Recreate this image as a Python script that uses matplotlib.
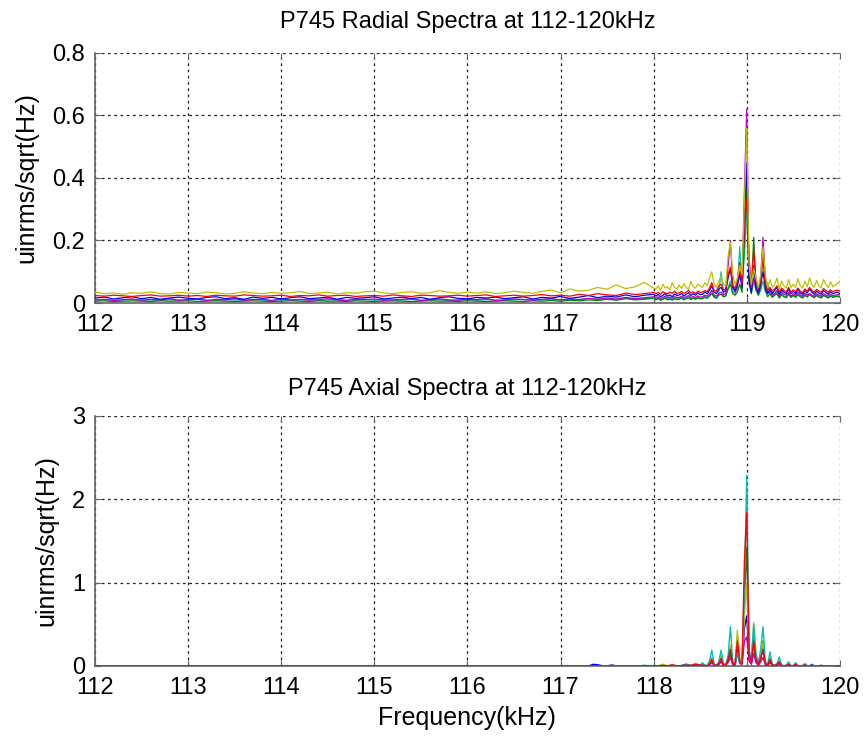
import matplotlib; matplotlib.use("Agg")
import matplotlib.pyplot as plt
import numpy as np

plt.rcParams["font.family"] = ["Liberation Sans", "DejaVu Sans"]

# ---------------- radial spectra (top) ----------------
rad_f_lo = np.round(np.arange(112.0, 118.001, 0.1), 3)      # 61 pts
rad_f_hi = np.round(np.arange(118.025, 120.001, 0.025), 3)  # 80 pts

rad_y_lo = [0.035,0.030,0.032,0.028,0.033,0.031,0.036,0.030,0.029,0.034,
            0.032,0.030,0.035,0.033,0.029,0.031,0.036,0.032,0.030,0.034,
            0.031,0.033,0.037,0.030,0.032,0.035,0.029,0.033,0.031,0.036,
            0.038,0.032,0.030,0.034,0.036,0.031,0.033,0.040,0.034,0.031,
            0.035,0.032,0.036,0.030,0.033,0.038,0.034,0.031,0.037,0.042,
            0.032,0.045,0.038,0.041,0.050,0.044,0.058,0.046,0.052,0.066,0.048]
rad_y_hi = [0.045,0.055,0.040,0.060,0.048,0.052,0.042,0.065,0.050,0.045,
            0.058,0.047,0.062,0.050,0.044,0.070,0.052,0.048,0.060,0.055,
            0.050,0.065,0.055,0.080,0.100,0.060,0.050,0.070,0.085,0.060,
            0.055,0.150,0.195,0.090,0.060,0.080,0.120,0.090,0.330,0.560,
            0.120,0.060,0.110,0.080,0.050,0.090,0.180,0.090,0.050,0.075,
            0.050,0.060,0.080,0.045,0.070,0.055,0.048,0.075,0.050,0.060,
            0.050,0.078,0.055,0.048,0.070,0.052,0.080,0.058,0.050,0.072,
            0.055,0.048,0.075,0.060,0.050,0.068,0.052,0.058,0.062,0.070]

rad_r_lo = [0.024,0.022,0.025,0.023,0.021,0.024,0.026,0.022,0.023,0.025,
            0.022,0.024,0.021,0.025,0.023,0.022,0.026,0.024,0.022,0.023,
            0.025,0.021,0.024,0.023,0.026,0.022,0.024,0.025,0.021,0.023,
            0.024,0.022,0.026,0.023,0.021,0.025,0.024,0.022,0.023,0.025,
            0.022,0.024,0.026,0.021,0.023,0.025,0.022,0.024,0.027,0.023,
            0.025,0.022,0.028,0.024,0.030,0.026,0.024,0.032,0.027,0.030,0.034]
rad_r_hi = [0.030,0.034,0.028,0.036,0.032,0.029,0.035,0.031,0.038,0.030,
            0.033,0.037,0.030,0.035,0.040,0.032,0.036,0.030,0.038,0.034,
            0.035,0.040,0.036,0.048,0.065,0.040,0.038,0.055,0.060,0.042,
            0.045,0.090,0.115,0.055,0.048,0.070,0.130,0.060,0.250,0.330,
            0.150,0.050,0.170,0.070,0.045,0.070,0.150,0.060,0.040,0.050,
            0.038,0.045,0.055,0.035,0.048,0.040,0.036,0.050,0.035,0.042,
            0.036,0.048,0.038,0.033,0.045,0.037,0.050,0.040,0.034,0.044,
            0.038,0.034,0.046,0.040,0.034,0.042,0.036,0.040,0.041,0.038]

rad_b_lo = [0.016,0.019,0.013,0.017,0.020,0.014,0.018,0.012,0.016,0.019,
            0.015,0.013,0.018,0.020,0.014,0.017,0.012,0.019,0.015,0.018,
            0.013,0.017,0.020,0.014,0.016,0.019,0.012,0.018,0.015,0.017,
            0.020,0.013,0.016,0.019,0.014,0.018,0.012,0.017,0.020,0.015,
            0.013,0.018,0.016,0.019,0.014,0.017,0.020,0.013,0.018,0.016,
            0.021,0.015,0.019,0.024,0.017,0.022,0.019,0.026,0.020,0.025,0.028]
rad_b_hi = [0.022,0.028,0.020,0.025,0.030,0.022,0.026,0.020,0.029,0.024,
            0.026,0.031,0.022,0.028,0.033,0.024,0.030,0.025,0.032,0.027,
            0.028,0.035,0.030,0.040,0.055,0.035,0.030,0.045,0.050,0.035,
            0.040,0.080,0.110,0.050,0.040,0.060,0.090,0.050,0.260,0.450,
            0.070,0.035,0.120,0.050,0.035,0.060,0.100,0.050,0.030,0.045,
            0.030,0.040,0.050,0.028,0.042,0.035,0.030,0.045,0.030,0.038,
            0.030,0.045,0.033,0.028,0.040,0.032,0.045,0.035,0.028,0.038,
            0.032,0.028,0.040,0.034,0.028,0.036,0.030,0.033,0.035,0.030]

rad_m_lo = [0.010,0.012,0.008,0.011,0.013,0.009,0.012,0.010,0.014,0.009,
            0.011,0.013,0.008,0.012,0.010,0.014,0.009,0.011,0.012,0.008,
            0.013,0.010,0.012,0.009,0.011,0.014,0.010,0.008,0.012,0.011,
            0.013,0.009,0.010,0.012,0.014,0.008,0.011,0.013,0.010,0.009,
            0.012,0.011,0.014,0.008,0.010,0.013,0.011,0.009,0.012,0.014,
            0.010,0.013,0.011,0.015,0.012,0.016,0.013,0.018,0.014,0.017,0.020]
rad_m_hi = [0.015,0.020,0.014,0.018,0.022,0.016,0.019,0.015,0.021,0.017,
            0.018,0.022,0.016,0.020,0.024,0.018,0.021,0.017,0.023,0.019,
            0.020,0.025,0.022,0.030,0.040,0.025,0.022,0.030,0.035,0.025,
            0.030,0.120,0.200,0.060,0.035,0.050,0.100,0.060,0.360,0.620,
            0.090,0.040,0.080,0.050,0.030,0.080,0.210,0.070,0.030,0.040,
            0.025,0.030,0.040,0.022,0.035,0.028,0.025,0.035,0.022,0.030,
            0.024,0.035,0.026,0.022,0.032,0.025,0.030,0.024,0.022,0.030,
            0.025,0.022,0.030,0.026,0.022,0.028,0.024,0.025,0.027,0.026]

rad_g_lo = [0.006,0.007,0.005,0.006,0.007,0.006,0.005,0.007,0.006,0.006,
            0.007,0.005,0.006,0.007,0.006,0.005,0.006,0.007,0.006,0.005,
            0.006,0.007,0.006,0.005,0.007,0.006,0.006,0.005,0.007,0.006,
            0.005,0.006,0.007,0.006,0.005,0.006,0.007,0.006,0.006,0.005,
            0.007,0.006,0.005,0.006,0.007,0.006,0.005,0.007,0.006,0.008,
            0.006,0.009,0.007,0.010,0.008,0.012,0.009,0.014,0.010,0.012,0.016]
rad_g_hi = [0.010,0.014,0.009,0.012,0.015,0.010,0.013,0.009,0.014,0.011,
            0.012,0.016,0.010,0.014,0.017,0.011,0.015,0.012,0.016,0.013,
            0.014,0.018,0.015,0.022,0.030,0.018,0.015,0.025,0.028,0.020,
            0.022,0.045,0.060,0.030,0.025,0.035,0.060,0.035,0.200,0.380,
            0.080,0.030,0.210,0.045,0.025,0.050,0.170,0.040,0.020,0.030,
            0.018,0.025,0.030,0.016,0.026,0.020,0.017,0.028,0.018,0.024,
            0.018,0.026,0.020,0.016,0.024,0.019,0.027,0.021,0.017,0.024,
            0.019,0.016,0.024,0.020,0.016,0.022,0.018,0.020,0.021,0.019]

rad_c_lo = [0.009,0.011,0.008,0.010,0.012,0.009,0.010,0.008,0.011,0.009,
            0.010,0.012,0.009,0.008,0.011,0.010,0.009,0.012,0.010,0.008,
            0.011,0.009,0.010,0.012,0.008,0.010,0.011,0.009,0.010,0.012,
            0.009,0.011,0.008,0.010,0.012,0.009,0.010,0.011,0.008,0.010,
            0.012,0.009,0.011,0.010,0.008,0.011,0.012,0.009,0.010,0.013,
            0.010,0.012,0.011,0.014,0.012,0.015,0.011,0.016,0.013,0.015,0.014]
rad_c_hi = [0.012,0.016,0.011,0.014,0.018,0.012,0.015,0.011,0.017,0.013,
            0.014,0.018,0.012,0.016,0.020,0.013,0.017,0.014,0.019,0.015,
            0.016,0.022,0.018,0.025,0.040,0.022,0.018,0.030,0.100,0.030,
            0.025,0.050,0.070,0.040,0.030,0.050,0.180,0.050,0.150,0.300,
            0.060,0.030,0.070,0.040,0.025,0.040,0.070,0.035,0.065,0.030,
            0.020,0.028,0.035,0.018,0.030,0.022,0.020,0.032,0.020,0.026,
            0.020,0.030,0.022,0.018,0.028,0.021,0.030,0.024,0.019,0.026,
            0.021,0.018,0.026,0.022,0.018,0.024,0.020,0.022,0.023,0.021]

# ---------------- axial spectra (bottom) ----------------
ax_f_lead = [112.0, 113.0, 114.0, 115.0, 116.0, 117.0, 117.3]
ax_f_mid = np.round(np.arange(117.35, 118.501, 0.05), 3)    # 24 pts
ax_f_hi = np.round(np.arange(118.525, 120.001, 0.025), 3)   # 60 pts
ax_lead = [0.0, 0.0, 0.0, 0.0, 0.0, 0.0, 0.0]

ax_b_mid = [0.020,0.015,0.003,0.002,0.012,0.002,0.001,0.001,0.002,0.001,0.001,0.003,
            0.001,0.002,0.001,0.004,0.002,0.003,0.002,0.004,0.022,0.005,0.012,0.008]
ax_b_hi = [0.015,0.006,0.002,0.030,0.070,0.012,0.006,0.030,0.080,0.012,
           0.012,0.070,0.180,0.030,0.015,0.350,0.060,0.025,0.450,0.600,
           0.090,0.040,0.300,0.070,0.015,0.090,0.200,0.030,0.010,0.080,
           0.010,0.005,0.015,0.045,0.005,0.003,0.005,0.020,0.003,0.003,
           0.020,0.003,0.002,0.003,0.015,0.002,0.001,0.020,0.001,0.001,
           0.001,0.005,0.001,0.000,0.001,0.002,0.000,0.000,0.001,0.000]

ax_g_mid = [0.001,0.001,0.000,0.000,0.001,0.000,0.000,0.000,0.000,0.001,0.000,0.002,
            0.001,0.001,0.002,0.005,0.002,0.005,0.002,0.004,0.008,0.005,0.025,0.008]
ax_g_hi = [0.010,0.005,0.002,0.020,0.060,0.010,0.005,0.020,0.070,0.010,
           0.010,0.060,0.150,0.020,0.010,0.200,0.040,0.020,0.800,1.420,
           0.100,0.030,0.350,0.060,0.015,0.080,0.300,0.020,0.010,0.060,
           0.008,0.004,0.012,0.040,0.004,0.002,0.004,0.015,0.002,0.002,
           0.015,0.002,0.001,0.002,0.010,0.001,0.001,0.004,0.001,0.001,
           0.001,0.004,0.001,0.000,0.001,0.002,0.000,0.000,0.001,0.000]

ax_y_mid = [0.002,0.001,0.001,0.001,0.002,0.001,0.001,0.001,0.001,0.002,0.001,0.004,
            0.002,0.003,0.004,0.022,0.003,0.006,0.004,0.005,0.008,0.006,0.030,0.012]
ax_y_hi = [0.020,0.008,0.003,0.040,0.100,0.015,0.008,0.040,0.120,0.015,
           0.015,0.090,0.250,0.040,0.020,0.430,0.080,0.030,0.600,1.000,
           0.120,0.050,0.520,0.100,0.020,0.120,0.280,0.040,0.015,0.100,
           0.012,0.006,0.020,0.060,0.006,0.003,0.006,0.030,0.003,0.003,
           0.025,0.003,0.002,0.003,0.020,0.002,0.001,0.006,0.001,0.001,
           0.001,0.006,0.001,0.000,0.001,0.003,0.000,0.000,0.001,0.000]

ax_m_mid = [0.001,0.001,0.000,0.000,0.001,0.000,0.000,0.000,0.000,0.001,0.000,0.002,
            0.001,0.001,0.001,0.003,0.001,0.003,0.002,0.003,0.010,0.004,0.012,0.006]
ax_m_hi = [0.008,0.003,0.001,0.015,0.040,0.006,0.003,0.015,0.050,0.006,
           0.006,0.040,0.100,0.015,0.008,0.150,0.030,0.015,0.300,0.350,
           0.060,0.020,0.150,0.040,0.008,0.050,0.100,0.015,0.005,0.040,
           0.005,0.002,0.008,0.025,0.002,0.001,0.002,0.010,0.001,0.001,
           0.010,0.001,0.001,0.001,0.008,0.001,0.000,0.003,0.000,0.000,
           0.000,0.003,0.000,0.000,0.000,0.001,0.000,0.000,0.000,0.000]

ax_c_mid = [0.001,0.002,0.000,0.000,0.001,0.000,0.000,0.001,0.000,0.001,0.000,0.010,
            0.001,0.002,0.002,0.006,0.002,0.005,0.003,0.005,0.015,0.006,0.020,0.010]
ax_c_hi = [0.040,0.010,0.005,0.060,0.190,0.020,0.010,0.050,0.190,0.030,
           0.020,0.120,0.470,0.050,0.020,0.150,0.050,0.020,0.900,2.290,
           0.200,0.080,0.500,0.150,0.030,0.200,0.470,0.050,0.020,0.170,
           0.020,0.010,0.030,0.110,0.010,0.005,0.010,0.050,0.005,0.005,
           0.040,0.005,0.003,0.005,0.030,0.003,0.002,0.010,0.002,0.002,
           0.002,0.010,0.002,0.001,0.002,0.005,0.001,0.001,0.002,0.001]

ax_r_mid = [0.001,0.001,0.000,0.000,0.001,0.000,0.000,0.000,0.000,0.001,0.000,0.002,
            0.001,0.002,0.002,0.006,0.003,0.015,0.003,0.004,0.010,0.005,0.020,0.010]
ax_r_hi = [0.010,0.005,0.002,0.030,0.080,0.010,0.005,0.030,0.090,0.010,
           0.010,0.080,0.200,0.030,0.020,0.300,0.060,0.030,1.240,1.840,
           0.150,0.040,0.300,0.080,0.020,0.100,0.200,0.030,0.010,0.080,
           0.010,0.005,0.015,0.050,0.005,0.002,0.005,0.020,0.002,0.002,
           0.020,0.002,0.001,0.002,0.015,0.001,0.001,0.005,0.001,0.001,
           0.001,0.005,0.001,0.000,0.001,0.002,0.000,0.000,0.001,0.000]

xticks = [112, 113, 114, 115, 116, 117, 118, 119, 120]

MC = {"b": "#0000ff", "g": "#008000", "r": "#ff0000", "c": "#00bfbf", "m": "#bf00bf", "y": "#bfbf00"}

fig = plt.figure(figsize=(8.64, 7.40), dpi=100)
ax1 = fig.add_axes([0.110, 0.5905, 0.862, 0.338])
ax2 = fig.add_axes([0.110, 0.100, 0.862, 0.338])

rf = np.concatenate([rad_f_lo, rad_f_hi])
for key, lo, hi in [("c", rad_c_lo, rad_c_hi), ("g", rad_g_lo, rad_g_hi), ("m", rad_m_lo, rad_m_hi),
                    ("b", rad_b_lo, rad_b_hi), ("r", rad_r_lo, rad_r_hi), ("y", rad_y_lo, rad_y_hi)]:
    ax1.plot(rf, np.concatenate([lo, hi]), color=MC[key], lw=0.9, zorder=3)

af = np.concatenate([ax_f_lead, ax_f_mid, ax_f_hi])
for key, mid, hi in [("b", ax_b_mid, ax_b_hi), ("g", ax_g_mid, ax_g_hi), ("y", ax_y_mid, ax_y_hi),
                     ("m", ax_m_mid, ax_m_hi), ("c", ax_c_mid, ax_c_hi), ("r", ax_r_mid, ax_r_hi)]:
    ax2.plot(af, np.concatenate([ax_lead, mid, hi]), color=MC[key], lw=1.0, zorder=3)

def style(ax, ymax, yticks, title, tpad):
    ax.set_xlim(112, 120); ax.set_ylim(0, ymax)
    ax.set_xticks(xticks); ax.set_yticks(yticks)
    ax.set_yticklabels([("%g" % v) for v in yticks])
    ax.grid(True, color="#222", ls=(0, (2.2, 2.8)), lw=0.9)
    for s in ("top", "right"):
        ax.spines[s].set_visible(False)
    for s in ("left", "bottom"):
        ax.spines[s].set_color("#666"); ax.spines[s].set_linewidth(1.2)
    ax.tick_params(direction="in", length=4, color="#666", top=True, right=True, labelsize=17)
    ax.tick_params(axis="x", pad=8)
    ax.tick_params(axis="y", pad=7)
    ax.set_title(title, fontsize=17, pad=tpad)
    ax.set_ylabel("uinrms/sqrt(Hz)", fontsize=18, labelpad=10)

style(ax1, 0.8, [0, 0.2, 0.4, 0.6, 0.8], "P745 Radial Spectra at 112-120kHz", 18)
style(ax2, 3, [0, 1, 2, 3], "P745 Axial Spectra at 112-120kHz", 15)
ax2.set_xlabel("Frequency(kHz)", fontsize=18, labelpad=5)

fig.savefig("out.png", dpi=100)
